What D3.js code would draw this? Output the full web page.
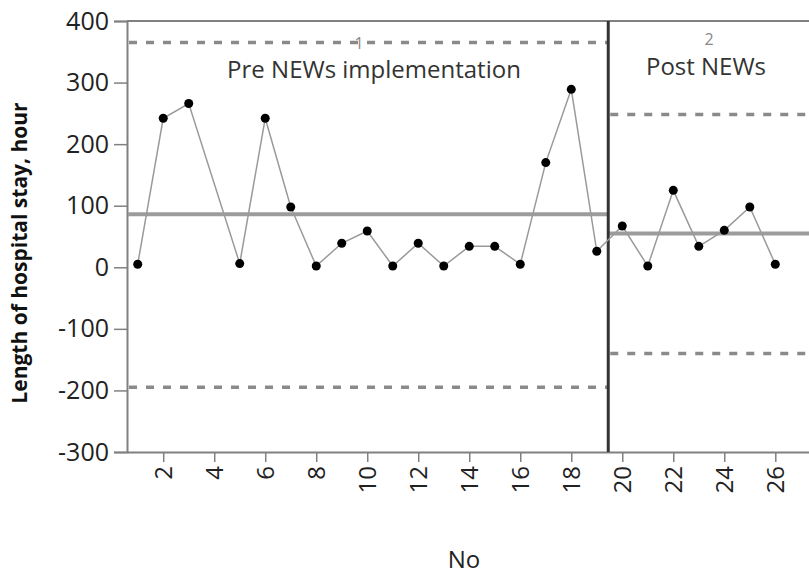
<!DOCTYPE html>
<html>
<head>
<meta charset="utf-8">
<script src="https://cdn.jsdelivr.net/npm/d3@7"></script>
<style>
	body { margin: 0; background: #fff; }
	svg text { font-family: "Open Sans", sans-serif; }
</style>
</head>
<body>
<div id="chart"></div>
<script>
// values (point 4 is missing)
var obsNo = [1, 2, 3, 5, 6, 7, 8, 9, 10, 11, 12, 13, 14, 15, 16, 17, 18, 19, 20, 21, 22, 23, 24, 25, 26];
var stayHours = [5, 242, 266, 6, 242, 98, 2, 39, 59, 2, 39, 2, 34, 34, 5, 170, 289, 26, 67, 2, 125, 34, 60, 98, 5];

var phaseNames = ["Pre NEWs implementation", "Post NEWs"];
var phaseIds = ["1", "2"];
var phaseStart = [0.58, 19.45];
var phaseEnd = [19.45, 27.4];
var phaseCenter = [86, 55];
var phaseUCL = [365, 248];
var phaseLCL = [-195, -140];

var yTicks = [400, 300, 200, 100, 0, -100, -200, -300];
var xTicks = [2, 4, 6, 8, 10, 12, 14, 16, 18, 20, 22, 24, 26];

var width = 809,
	height = 578,
	margin = { top: 21, left: 127, bottom: 126 };

var svg = d3.select("#chart").append("svg")
	.attr("width", width)
	.attr("height", height);

var x = d3.scaleLinear().domain([0.58, 27.4]).range([margin.left, 811]);
var y = d3.scaleLinear().domain([-300, 400]).range([height - margin.bottom, margin.top]);

var data = obsNo.map(function(d, i) { return { no: d, v: stayHours[i] }; });

// frame
svg.append("line")
	.attr("x1", margin.left).attr("x2", width)
	.attr("y1", y(400)).attr("y2", y(400))
	.attr("stroke", "#808080").attr("stroke-width", 2);

// y axis
var yAxis = svg.append("g")
	.attr("transform", "translate(" + margin.left + ",0)")
	.call(d3.axisLeft(y).tickValues(yTicks).tickSize(13).tickPadding(5)
		.tickFormat(function(d) { return String(d); }));
yAxis.select(".domain").attr("stroke", "#808080").attr("stroke-width", 2);
yAxis.selectAll(".tick line").attr("stroke", "#808080").attr("stroke-width", 1.5);
yAxis.selectAll(".tick text")
	.style("font-family", "Open Sans")
	.style("font-size", "25px")
	.attr("fill", "#222");

// x axis
var xAxis = svg.append("g")
	.attr("transform", "translate(0," + y(-300) + ")")
	.call(d3.axisBottom(x).tickValues(xTicks).tickSize(10).tickSizeOuter(0));
xAxis.select(".domain").attr("stroke", "#808080").attr("stroke-width", 2);
xAxis.selectAll(".tick line").attr("stroke", "#808080").attr("stroke-width", 1.5);
xAxis.selectAll(".tick text")
	.style("font-family", "Open Sans")
	.style("font-size", "24px")
	.attr("fill", "#222")
	.attr("transform", "rotate(-90)")
	.attr("text-anchor", "end")
	.attr("x", -14)
	.attr("y", 0)
	.attr("dy", "0.35em");

// limits per phase
phaseNames.forEach(function(name, i) {
	var x1 = x(phaseStart[i]), x2 = Math.min(x(phaseEnd[i]), width);

	[phaseUCL[i], phaseLCL[i]].forEach(function(v) {
		svg.append("line")
			.attr("x1", x1 + 2).attr("x2", x2)
			.attr("y1", y(v)).attr("y2", y(v))
			.attr("stroke", "#8a8a8a")
			.attr("stroke-width", 3.5)
			.attr("stroke-dasharray", "8,9");
	});

	svg.append("line")
		.attr("x1", x1 + 1).attr("x2", x2)
		.attr("y1", y(phaseCenter[i])).attr("y2", y(phaseCenter[i]))
		.attr("stroke", "#9c9c9c")
		.attr("stroke-width", 4);

	svg.append("text")
		.attr("x", i == 0 ? 359 : 709)
		.attr("y", i == 0 ? 49 : 45)
		.attr("text-anchor", "middle")
		.style("font-size", "16px")
		.attr("fill", "#888")
		.text(phaseIds[i]);

	svg.append("text")
		.attr("x", i == 0 ? 374 : 706)
		.attr("y", i == 0 ? 78 : 75)
		.attr("text-anchor", "middle")
		.style("font-size", "24px")
		.attr("fill", "#333")
		.text(name);
});

// phase separator
svg.append("line")
	.attr("x1", x(19.45)).attr("x2", x(19.45))
	.attr("y1", y(400)).attr("y2", y(-300))
	.attr("stroke", "#333")
	.attr("stroke-width", 3);

// series
var line = d3.line()
	.x(function(d) { return x(d.no); })
	.y(function(d) { return y(d.v); });

svg.append("path")
	.datum(data)
	.attr("d", line)
	.attr("fill", "none")
	.attr("stroke", "#9a9a9a")
	.attr("stroke-width", 1.5);

svg.selectAll("circle.pt")
	.data(data)
	.enter().append("circle")
	.attr("class", "pt")
	.attr("cx", function(d) { return x(d.no); })
	.attr("cy", function(d) { return y(d.v); })
	.attr("r", 4.5)
	.attr("fill", "#000");

// axis titles
svg.append("text")
	.attr("x", 464)
	.attr("y", 568)
	.attr("text-anchor", "middle")
	.style("font-size", "24px")
	.attr("fill", "#222")
	.text("No");

svg.append("text")
	.attr("transform", "translate(27,253) rotate(-90)")
	.attr("text-anchor", "middle")
	.style("font-size", "21px")
	.style("font-weight", "bold")
	.attr("fill", "#111")
	.text("Length of hospital stay, hour");
</script>
</body>
</html>
